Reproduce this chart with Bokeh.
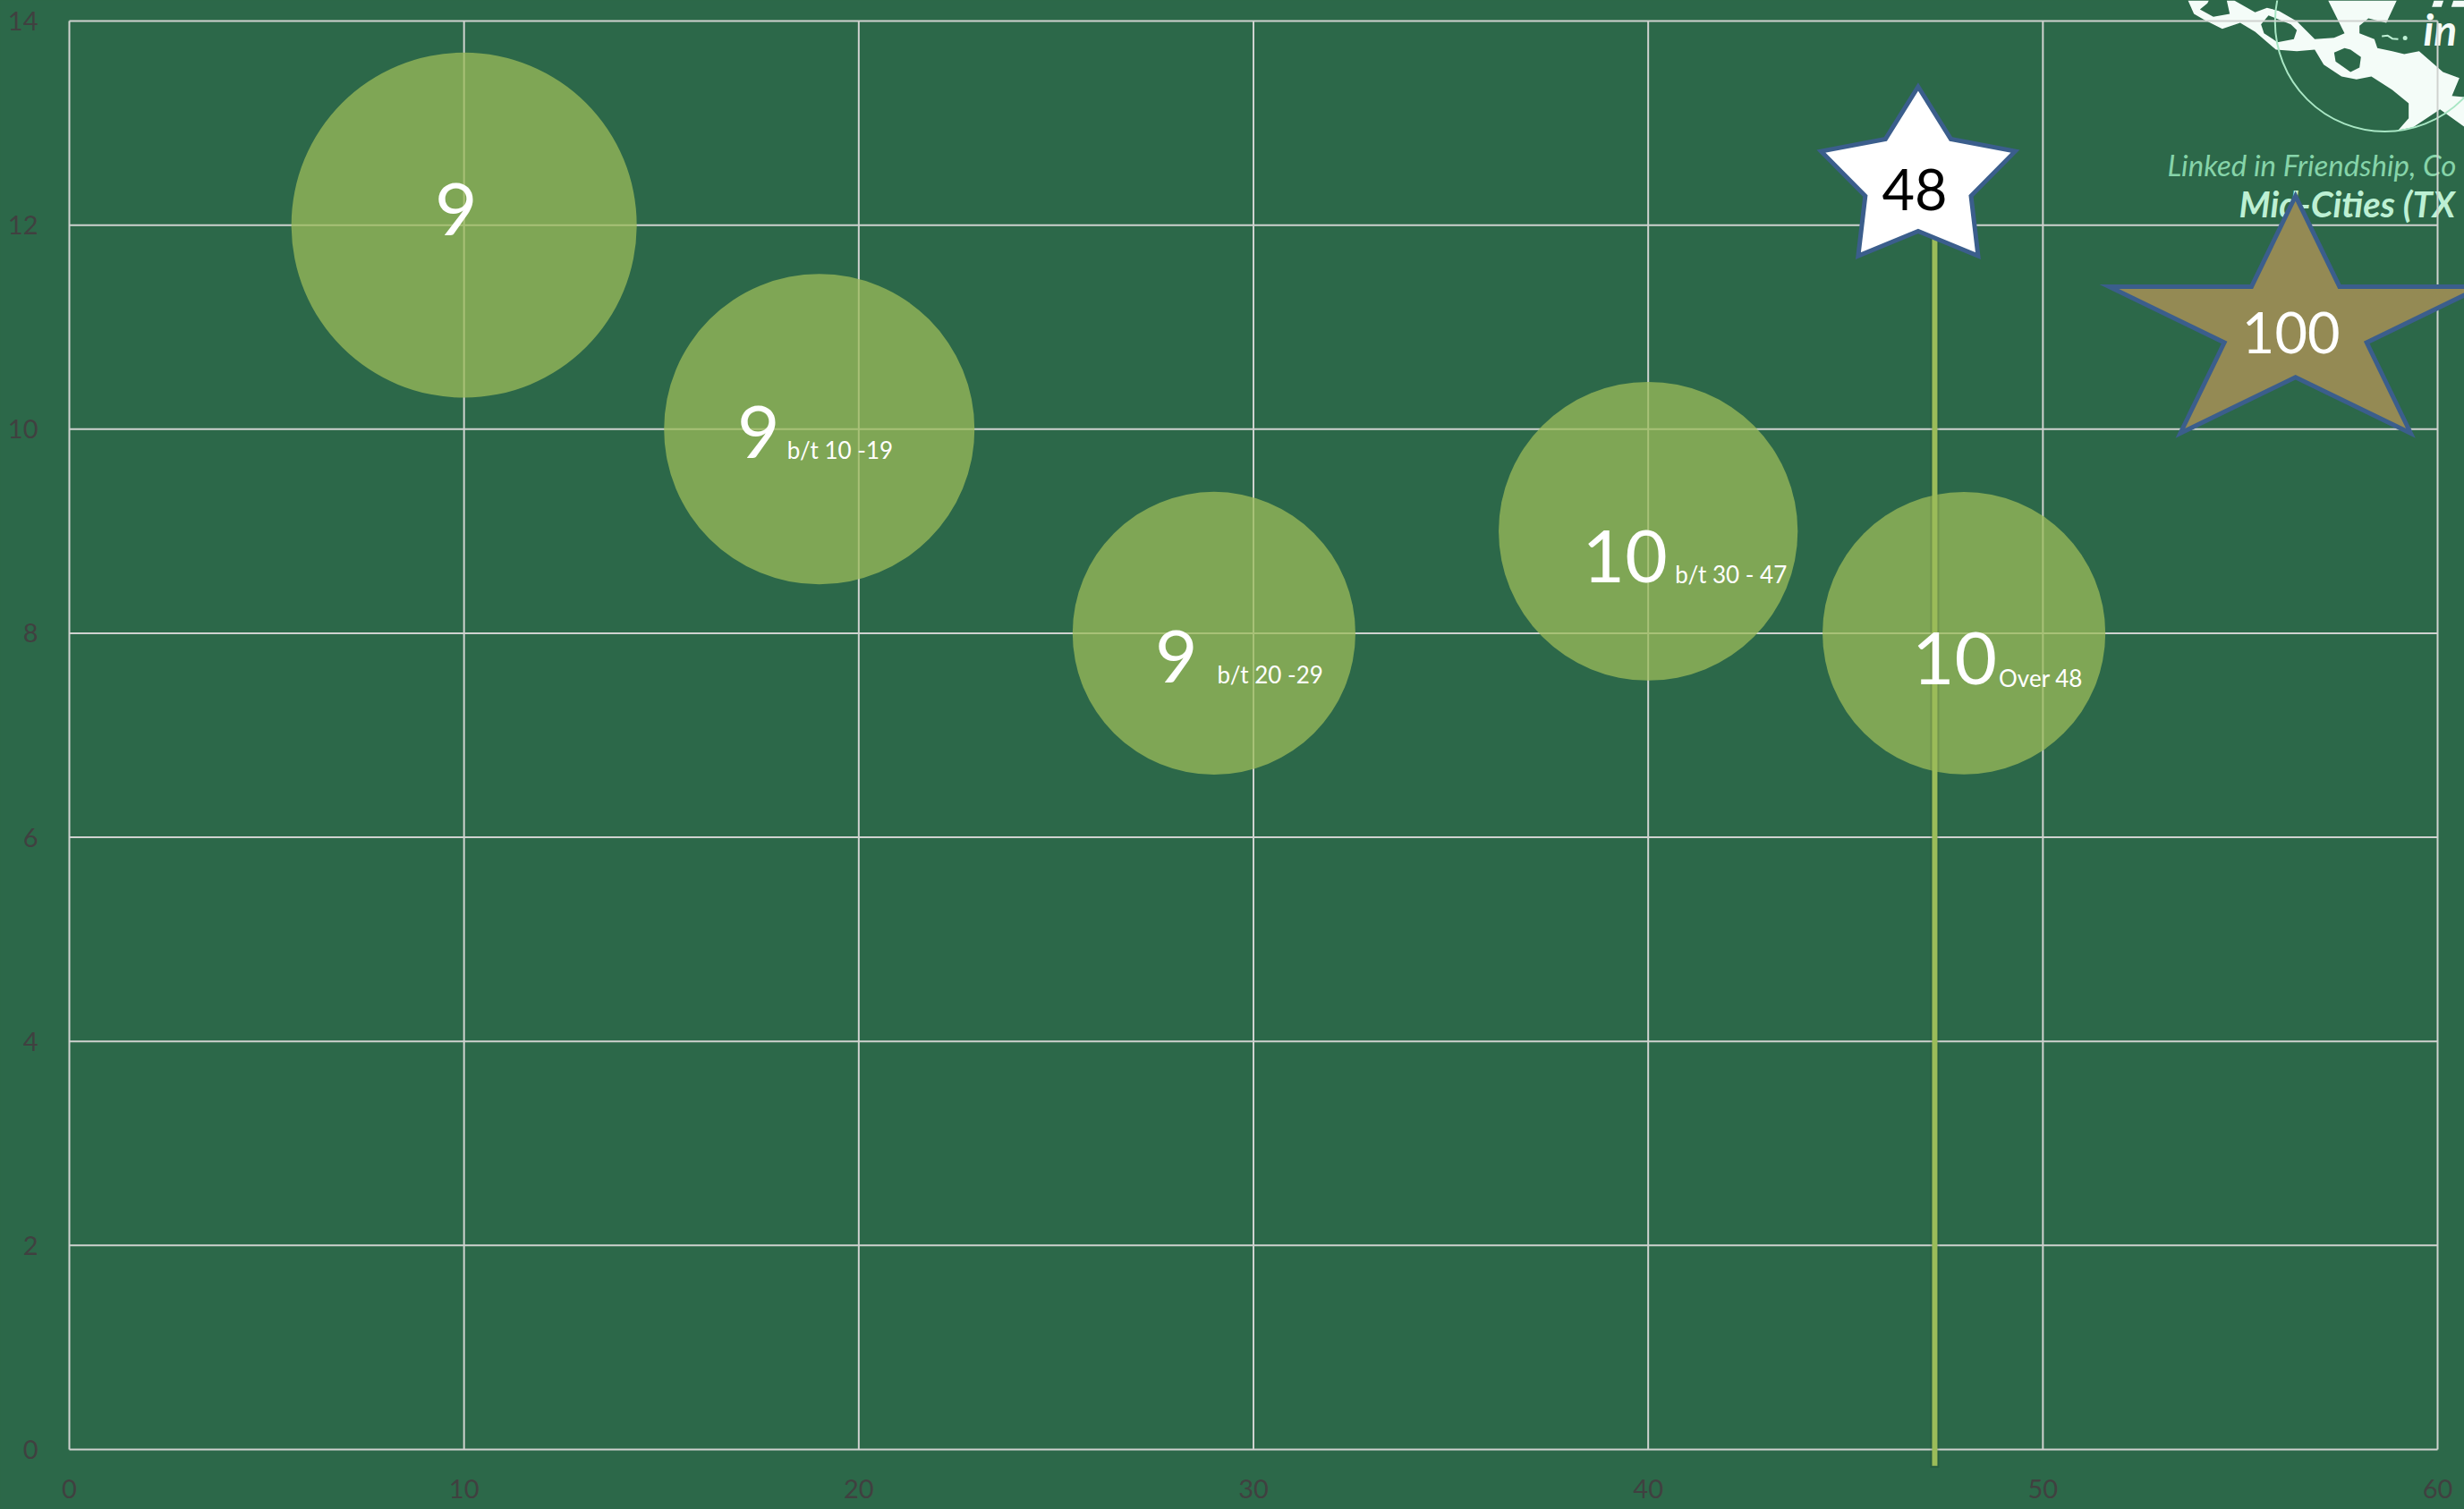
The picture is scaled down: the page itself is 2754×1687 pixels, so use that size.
import math
from bokeh.plotting import figure
from bokeh.models import FixedTicker, LinearAxis, Range1d
from bokeh.embed import file_html
from bokeh.resources import INLINE
from bokeh.core.properties import value

# ---- chart data ----
bubble_x = [10, 19, 29, 40, 48]
bubble_y = [12, 10, 8, 9, 8]
bubble_value = [12, 9.7, 8.05, 9, 8.05]
bubble_labels = ["9", "9", "9", "10", "10"]
bubble_notes = ["", "b/t 10 -19", "b/t 20 -29", "b/t 30 - 47", "Over 48"]
star_x = [46.84, 56.4]
star_y = [12.44, 11.0]
star_labels = ["48", "100"]
line_x = 47.26
line_bottom = -0.16
x_ticks = [0, 10, 20, 30, 40, 50, 60]
y_ticks = [0, 2, 4, 6, 8, 10, 12, 14]

# ---- layout (page pixels) ----
W, H = 2754, 1687
X0_PX, X60_PX = 77.0, 2724.0
Y0_PX, Y14_PX = 1620.0, 23.0
UX = (X60_PX - X0_PX) / 60
UY = (Y0_PX - Y14_PX) / 14

def dx(px):
    return (px - X0_PX) / UX

def dy(py):
    return (Y0_PX - py) / UY

BG = "#2C6849"
GRID = "#CFD2CF"
TICK = "#404040"
FONT = value("Lato")

p = figure(
    width=W, height=H, output_backend="svg", toolbar_location=None,
    x_range=Range1d(dx(0), dx(W)), y_range=Range1d(dy(H), dy(0)),
    x_axis_type=None, y_axis_type=None, min_border=0,
    background_fill_color=BG, border_fill_color=BG, outline_line_color=None,
)

# ---- axes ----
for loc, ticks, standoff in (("below", x_ticks, 27), ("left", y_ticks, 29)):
    ax = LinearAxis(ticker=FixedTicker(ticks=ticks), fixed_location=0,
                    axis_line_color=None, major_tick_line_color=None,
                    minor_tick_line_color=None,
                    major_label_text_color=TICK, major_label_text_font="Lato",
                    major_label_text_font_size="29px",
                    major_label_standoff=standoff)
    p.add_layout(ax, loc)

# ---- logo in the corner, behind the grid ----
def logo(points):
    return [dx(2420 + a / 3) for a, _ in points], [dy(b / 3) for _, b in points]

LOGO_WHITE = "#F4FCF8"
band = [(75, 0), (95, 45), (130, 65), (190, 95), (250, 75), (300, 105), (370, 165),
        (440, 170), (500, 165), (530, 215), (590, 255), (640, 265), (690, 255),
        (760, 300), (815, 345), (815, 395), (780, 435), (830, 425), (920, 365),
        (1010, 430), (1010, 325), (960, 320), (985, 260), (930, 240), (850, 170),
        (800, 180), (760, 170), (710, 160), (700, 130), (650, 110), (650, 85),
        (680, 60), (740, 75), (775, 0), (545, 0), (600, 110), (565, 125),
        (500, 130), (440, 70), (380, 35), (340, 25), (300, 40), (230, 0), (205, 0),
        (215, 45), (160, 55), (115, 30), (140, 10), (145, 0)]
holes = [[(345, 50), (320, 80), (330, 110), (375, 140), (430, 130), (440, 100), (420, 80), (370, 60)],
         [(600, 160), (565, 175), (570, 205), (620, 240), (650, 225), (655, 190), (620, 165)]]
stems = [[(900, 0), (932, 0), (925, 22), (893, 22)], [(965, 0), (1002, 0), (1002, 22), (958, 22)]]
bx, by = logo(band)
p.patch(bx, by, fill_color=LOGO_WHITE, line_color=None, level="image")
for h in holes:
    hx, hy = logo(h)
    p.patch(hx, hy, fill_color=BG, line_color=None, level="image")
for s in stems:
    tx, ty = logo(s)
    p.patch(tx, ty, fill_color=LOGO_WHITE, line_color=None, level="image")
p.scatter([dx(2665)], [dy(24)], size=2 * 122.7, marker="circle", fill_color=None,
          line_color="#A8E6C4", line_width=2, level="image")
sx, sy = logo([(725, 120), (745, 118), (760, 128), (780, 130)])
p.line(sx, sy, line_color="#BFF0D5", line_width=2, level="image")
p.scatter([dx(2420 + 803 / 3)], [dy(126 / 3)], size=5, marker="circle",
          fill_color="#BFF0D5", line_color=None, level="image")
p.text([dx(2422)], [dy(183)], text=["Linked in Friendship, Co"], text_font=FONT,
       text_font_style="italic", text_font_size="33px", text_color="#86D4A9",
       text_baseline="alphabetic", level="image")
p.text([dx(2502)], [dy(227)], text=["Mid-Cities (TX"], text_font=FONT,
       text_font_style="bold italic", text_font_size="40px", text_color="#BDF0D4",
       text_baseline="alphabetic", level="image")
p.text([dx(2708)], [dy(32)], text=["in"], text_font=FONT,
       text_font_style="bold italic", text_font_size="48px", text_color=LOGO_WHITE,
       text_baseline="alphabetic", level="image")

# ---- grid, ending at the plot frame ----
p.segment(x_ticks, [0] * len(x_ticks), x_ticks, [14] * len(x_ticks),
          line_color=GRID, line_width=2, level="underlay")
p.segment([0] * len(y_ticks), y_ticks, [60] * len(y_ticks), y_ticks,
          line_color=GRID, line_width=2, level="underlay")

# ---- bubbles: area follows the bubble value ----
bubble_size = [2 * 193 * math.sqrt(v / 12) for v in bubble_value]
p.scatter(bubble_x, bubble_y, size=bubble_size, marker="circle",
          fill_color="#9BBB59", fill_alpha=0.75, line_color=None)

# ---- vertical marker line with a soft shadow ----
p.segment([line_x], [line_bottom - 0.02], [line_x], [star_y[0]],
          line_color="#000000", line_alpha=0.10, line_width=10)
p.segment([line_x], [line_bottom], [line_x], [star_y[0]],
          line_color="#9BBB59", line_width=6)

# ---- stars ----
def star(cx, cy, rx_px, ry_px, ratio):
    xs, ys = [], []
    for i in range(10):
        r = 1 if i % 2 == 0 else ratio
        a = math.pi / 2 - i * math.pi / 5
        xs.append(cx + r * rx_px * math.cos(a) / UX)
        ys.append(cy + r * ry_px * math.sin(a) / UY)
    return xs, ys

s1 = star(star_x[0], star_y[0], 114, 104.5, 0.545)
s2 = star(star_x[1], star_y[1], 219, 146.5, 0.382)
p.patches([s1[0], s2[0]], [s1[1], s2[1]], fill_color=["#FFFFFF", "#948A54"],
          line_color="#3B5E8C", line_width=5, line_join="miter")

# ---- labels ----
label_dx = [-9, -68, -42, -26, -10.5]
label_dy = [-18, 3.5, 26, 28, 28]
note_dx = [0, -36, 3.5, 30, 39]
note_dy = [0, 23, 46, 48, 50]
p.text(bubble_x, bubble_y, text=bubble_labels, text_font=FONT, text_font_size="82px",
       text_color="#FFFFFF", text_align="center", text_baseline="middle",
       x_offset=label_dx, y_offset=label_dy)
p.text(bubble_x, bubble_y, text=bubble_notes, text_font=FONT, text_font_size="26px",
       text_color="#FFFFFF", text_align="left", text_baseline="alphabetic",
       x_offset=note_dx, y_offset=note_dy)
p.text(star_x, star_y, text=star_labels, text_font=FONT, text_font_size="63px",
       text_color=["#000000", "#FFFFFF"], text_align="center", text_baseline="middle",
       x_offset=[-4, -5], y_offset=[11, 6])

html = file_html(p, INLINE)
html = html.replace("<head>", "<head><style>html,body{background:%s;overflow:hidden}</style>" % BG, 1)
open("out.html", "w").write(html)
